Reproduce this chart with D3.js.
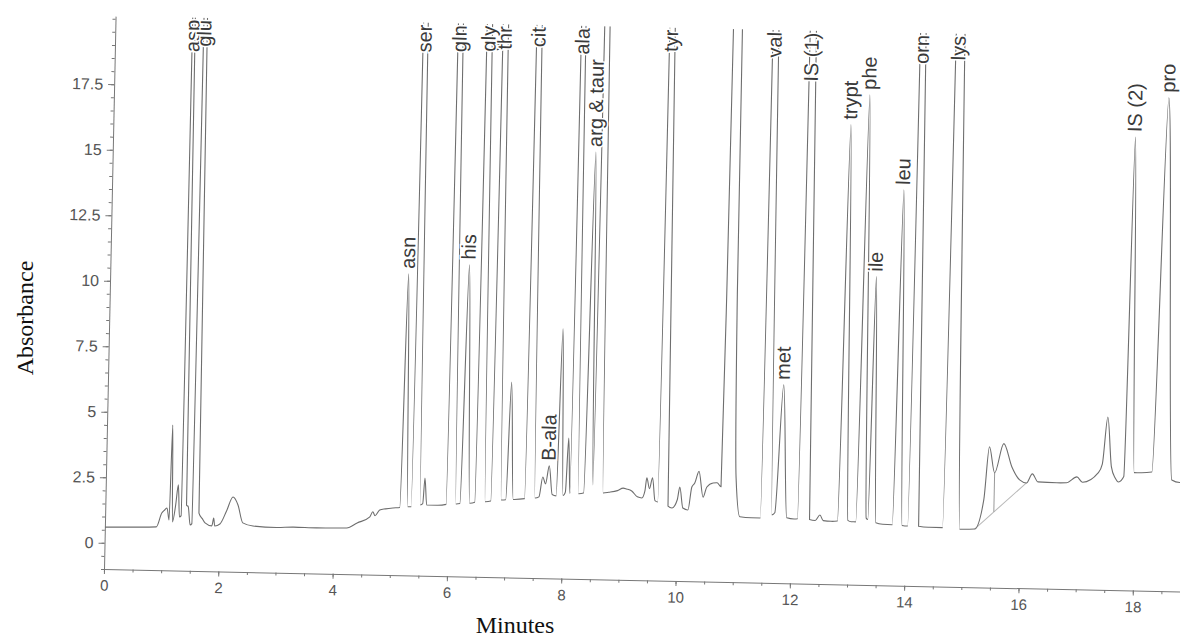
<!DOCTYPE html>
<html lang="en">
    <head>
        <meta charset="utf-8">
        <title>Amino acid chromatogram</title>
        <script src="https://d3js.org/d3.v7.min.js"></script>
        <style type="text/css">
         body { margin: 0; background: #fff; }
         svg { display: block; }
        </style>
    </head>
    <body>
        <script type="text/javascript">
         //Width and height
         var width = 1180;
         var height = 643;

         //Tick values on both axes
         var xTicks = [0, 2, 4, 6, 8, 10, 12, 14, 16, 18];
         var yTicks = [0, 2.5, 5, 7.5, 10, 12.5, 15, 17.5];

         //Detector trace, [minutes, absorbance] (off-scale tops above 20)
         var trace = [
             [0.00, 0.60], [0.50, 0.62], [0.90, 0.65], [0.99, 1.18], [1.04, 1.30], [1.08, 1.38],
             [1.12, 0.92], [1.15, 4.55], [1.18, 0.85], [1.23, 1.50], [1.27, 2.27], [1.30, 1.05],
             [1.33, 1.10], [1.37, 40], [1.42, 1.50], [1.45, 1.45], [1.49, 0.75], [1.52, 0.80],
             [1.575, 40], [1.64, 1.21], [1.70, 1.00], [1.75, 0.84], [1.87, 0.73], [1.90, 1.03],
             [1.92, 0.73], [2.01, 0.81], [2.12, 1.30], [2.23, 1.85], [2.32, 1.55], [2.41, 0.87],
             [2.59, 0.76], [3.00, 0.72], [3.30, 0.75], [3.70, 0.74], [4.23, 0.76], [4.41, 0.96],
             [4.63, 1.20], [4.68, 1.40], [4.72, 1.25], [4.80, 1.47], [4.90, 1.52], [5.03, 1.56],
             [5.15, 1.58], [5.22, 10.5], [5.29, 1.62], [5.35, 1.62], [5.43, 40], [5.51, 1.70],
             [5.55, 1.75], [5.58, 2.73], [5.62, 1.70], [5.80, 1.70], [5.96, 1.74], [6.04, 40],
             [6.13, 1.76], [6.20, 1.78], [6.28, 10.9], [6.37, 1.80], [6.46, 1.84], [6.55, 40],
             [6.64, 1.87], [6.74, 1.90], [6.83, 40], [6.92, 1.95], [7.00, 1.96], [7.06, 6.46],
             [7.13, 1.98], [7.33, 2.02], [7.42, 40], [7.51, 2.05], [7.58, 2.10], [7.64, 2.86],
             [7.69, 2.60], [7.75, 3.29], [7.81, 2.20], [7.88, 2.15], [7.94, 8.53], [8.00, 2.17],
             [8.04, 2.30], [8.08, 4.37], [8.12, 2.25], [8.19, 40], [8.27, 2.25], [8.36, 2.28],
             [8.45, 15.3], [8.52, 2.60], [8.60, 40], [8.70, 2.30], [8.80, 2.33], [8.95, 2.40],
             [9.05, 2.50], [9.11, 2.47], [9.20, 2.40], [9.30, 2.18], [9.38, 2.14], [9.43, 2.40],
             [9.46, 2.91], [9.51, 2.50], [9.56, 2.92], [9.61, 2.05], [9.66, 2.00], [9.74, 40],
             [9.84, 1.85], [9.91, 1.78], [10.00, 2.10], [10.04, 2.59], [10.10, 1.79], [10.19, 1.72],
             [10.25, 2.60], [10.30, 2.75], [10.37, 3.20], [10.45, 2.22], [10.51, 2.60], [10.62, 2.77],
             [10.69, 2.78], [10.76, 2.63], [10.79, 10], [10.83, 30], [10.90, 45], [10.96, 30],
             [10.975, 10], [11.02, 3.00], [11.10, 1.50], [11.30, 1.47], [11.46, 1.47], [11.55, 40],
             [11.66, 1.60], [11.71, 1.68], [11.82, 6.57], [11.92, 1.50], [12.05, 1.46], [12.11, 1.47],
             [12.20, 40], [12.32, 1.45], [12.42, 1.42], [12.50, 1.63], [12.56, 1.42], [12.70, 1.40],
             [12.81, 1.42], [12.90, 16.55], [12.99, 1.45], [13.05, 1.40], [13.13, 1.40], [13.22, 17.7],
             [13.31, 1.55], [13.34, 1.50], [13.40, 10.77], [13.48, 1.38], [13.60, 1.33], [13.77, 1.32],
             [13.85, 14.1], [13.94, 1.30], [14.04, 1.28], [14.13, 40], [14.23, 1.28], [14.40, 1.25],
             [14.65, 1.25], [14.77, 40], [14.95, 1.20], [15.21, 1.22], [15.36, 2.34], [15.44, 4.37],
             [15.54, 3.38], [15.69, 4.50], [15.84, 3.62], [15.98, 3.13], [16.10, 3.02], [16.20, 3.37],
             [16.30, 3.07], [16.63, 3.05], [16.80, 3.06], [16.98, 3.29], [17.08, 3.09], [17.35, 3.46],
             [17.42, 3.80], [17.50, 5.60], [17.58, 3.70], [17.65, 3.28], [17.71, 3.13], [17.80, 3.34],
             [17.88, 16.3], [17.98, 3.50], [18.09, 3.50], [18.29, 3.54], [18.45, 17.83], [18.64, 3.25],
             [18.78, 3.16], [19.00, 3.20]
         ];

         //Integration baseline drawn under the late hump, and its drop line
         var baseline = [[15.21, 1.22], [16.10, 3.02]];
         var dropLines = [[15.54, 3.38, 1.89]];

         //Peak names, retention times and apex heights (null = off scale)
         var peakNames = ["asp", "glu", "asn", "ser", "gln", "his", "gly", "thr", "cit", "B-ala",
                          "ala", "arg & taur", "tyr", "val", "met", "IS (1)", "trypt", "phe",
                          "ile", "leu", "orn", "lys", "IS (2)", "pro"];
         var peakTimes = [1.37, 1.575, 5.22, 5.43, 6.04, 6.28, 6.55, 6.83, 7.42, 7.75,
                          8.19, 8.45, 9.74, 11.55, 11.82, 12.2, 12.9, 13.22,
                          13.4, 13.85, 14.13, 14.77, 17.88, 18.45];
         var peakHeights = [null, null, 10.5, null, null, 10.9, null, null, null, 3.29,
                            null, 15.3, null, null, 6.57, null, 16.55, 17.7,
                            10.77, 14.1, null, null, 16.3, 17.83];

         var yTop = 20.1;

         //Create SVG element
         var svg = d3.select("body")
                     .append("svg")
                     .attr("width", width)
                     .attr("height", height);

         svg.append("rect").attr("width", width).attr("height", height).attr("fill", "#fff");

         //Scales (the scanned plot sits slightly rotated)
         var x = d3.scaleLinear().domain([0, 19.5]).range([0, 19.5 * 57.17]);
         var y = d3.scaleLinear().domain([-1, yTop]).range([0, -553]);

         var g = svg.append("g")
                    .attr("transform", "translate(104,569) rotate(1.2)");

         g.append("clipPath").attr("id", "plotclip")
          .append("rect")
          .attr("x", 0).attr("y", y(yTop))
          .attr("width", x(19.5)).attr("height", y(-1) - y(yTop));

         //Axes: minor ticks first, then labelled ticks
         var axisFont = "'Liberation Sans', Arial, sans-serif";

         g.append("g")
          .call(d3.axisBottom(x).tickValues(d3.range(0, 19.5, 0.5)).tickSize(3).tickSizeOuter(0).tickFormat(""))
          .call(a => a.selectAll("path, line").attr("stroke", "#777"));
         g.append("g")
          .call(d3.axisBottom(x).tickValues(xTicks).tickSize(5).tickSizeOuter(0).tickPadding(6).tickFormat(d => d))
          .call(a => a.select(".domain").remove())
          .call(a => a.selectAll("line").attr("stroke", "#777"))
          .call(a => a.selectAll("text").attr("font-family", axisFont).attr("font-size", 15).attr("fill", "#555"));

         g.append("g")
          .call(d3.axisLeft(y).tickValues(d3.range(-1, yTop, 0.5)).tickSize(3).tickSizeOuter(0).tickFormat(""))
          .call(a => a.selectAll("path, line").attr("stroke", "#777"));
         g.append("g")
          .call(d3.axisLeft(y).tickValues(yTicks).tickSize(6).tickSizeOuter(0).tickPadding(5).tickFormat(d => d))
          .call(a => a.select(".domain").remove())
          .call(a => a.selectAll("line").attr("stroke", "#777"))
          .call(a => a.selectAll("text").attr("font-family", axisFont).attr("font-size", 16).attr("fill", "#555"));

         //Trace
         var line = d3.line()
                      .x(d => x(d[0]))
                      .y(d => y(d[1]))
                      .curve(d3.curveMonotoneX);

         var plot = g.append("g").attr("clip-path", "url(#plotclip)");

         plot.append("path")
             .datum(baseline)
             .attr("d", d3.line().x(d => x(d[0])).y(d => y(d[1])))
             .attr("fill", "none")
             .attr("stroke", "#b8b8b8")
             .attr("stroke-width", 1);

         plot.selectAll(".drop")
             .data(dropLines)
             .enter()
             .append("line")
             .attr("x1", d => x(d[0])).attr("x2", d => x(d[0]))
             .attr("y1", d => y(d[1])).attr("y2", d => y(d[2]))
             .attr("stroke", "#999")
             .attr("stroke-width", 1);

         plot.append("path")
             .datum(trace)
             .attr("d", line)
             .attr("fill", "none")
             .attr("stroke", "#6e6e6e")
             .attr("stroke-width", 1.1);

         //Peak labels
         g.selectAll(".peak")
          .data(peakNames)
          .enter()
          .append("text")
          .attr("class", "peak")
          .attr("transform", (d, i) => {
              var h = peakHeights[i];
              var yy = h === null ? y(yTop) + 2 : y(h) - 5;
              return "translate(" + x(peakTimes[i]) + "," + yy + ") rotate(-90)";
          })
          .attr("text-anchor", (d, i) => peakHeights[i] === null ? "end" : "start")
          .attr("dy", "0.3em")
          .attr("font-family", axisFont)
          .attr("font-size", 20)
          .attr("fill", "#3a3a3a")
          .attr("stroke", "#fff")
          .attr("stroke-width", 3)
          .attr("paint-order", "stroke")
          .text(d => d);

         //Axis titles
         svg.append("text")
            .attr("transform", "translate(33,318) rotate(-90)")
            .attr("text-anchor", "middle")
            .attr("font-family", "'Liberation Serif', 'Times New Roman', serif")
            .attr("font-size", 24)
            .attr("fill", "#111")
            .text("Absorbance");

         svg.append("text")
            .attr("x", 515)
            .attr("y", 633)
            .attr("text-anchor", "middle")
            .attr("font-family", "'Liberation Serif', 'Times New Roman', serif")
            .attr("font-size", 24)
            .attr("fill", "#111")
            .text("Minutes");
        </script>
    </body>
</html>
